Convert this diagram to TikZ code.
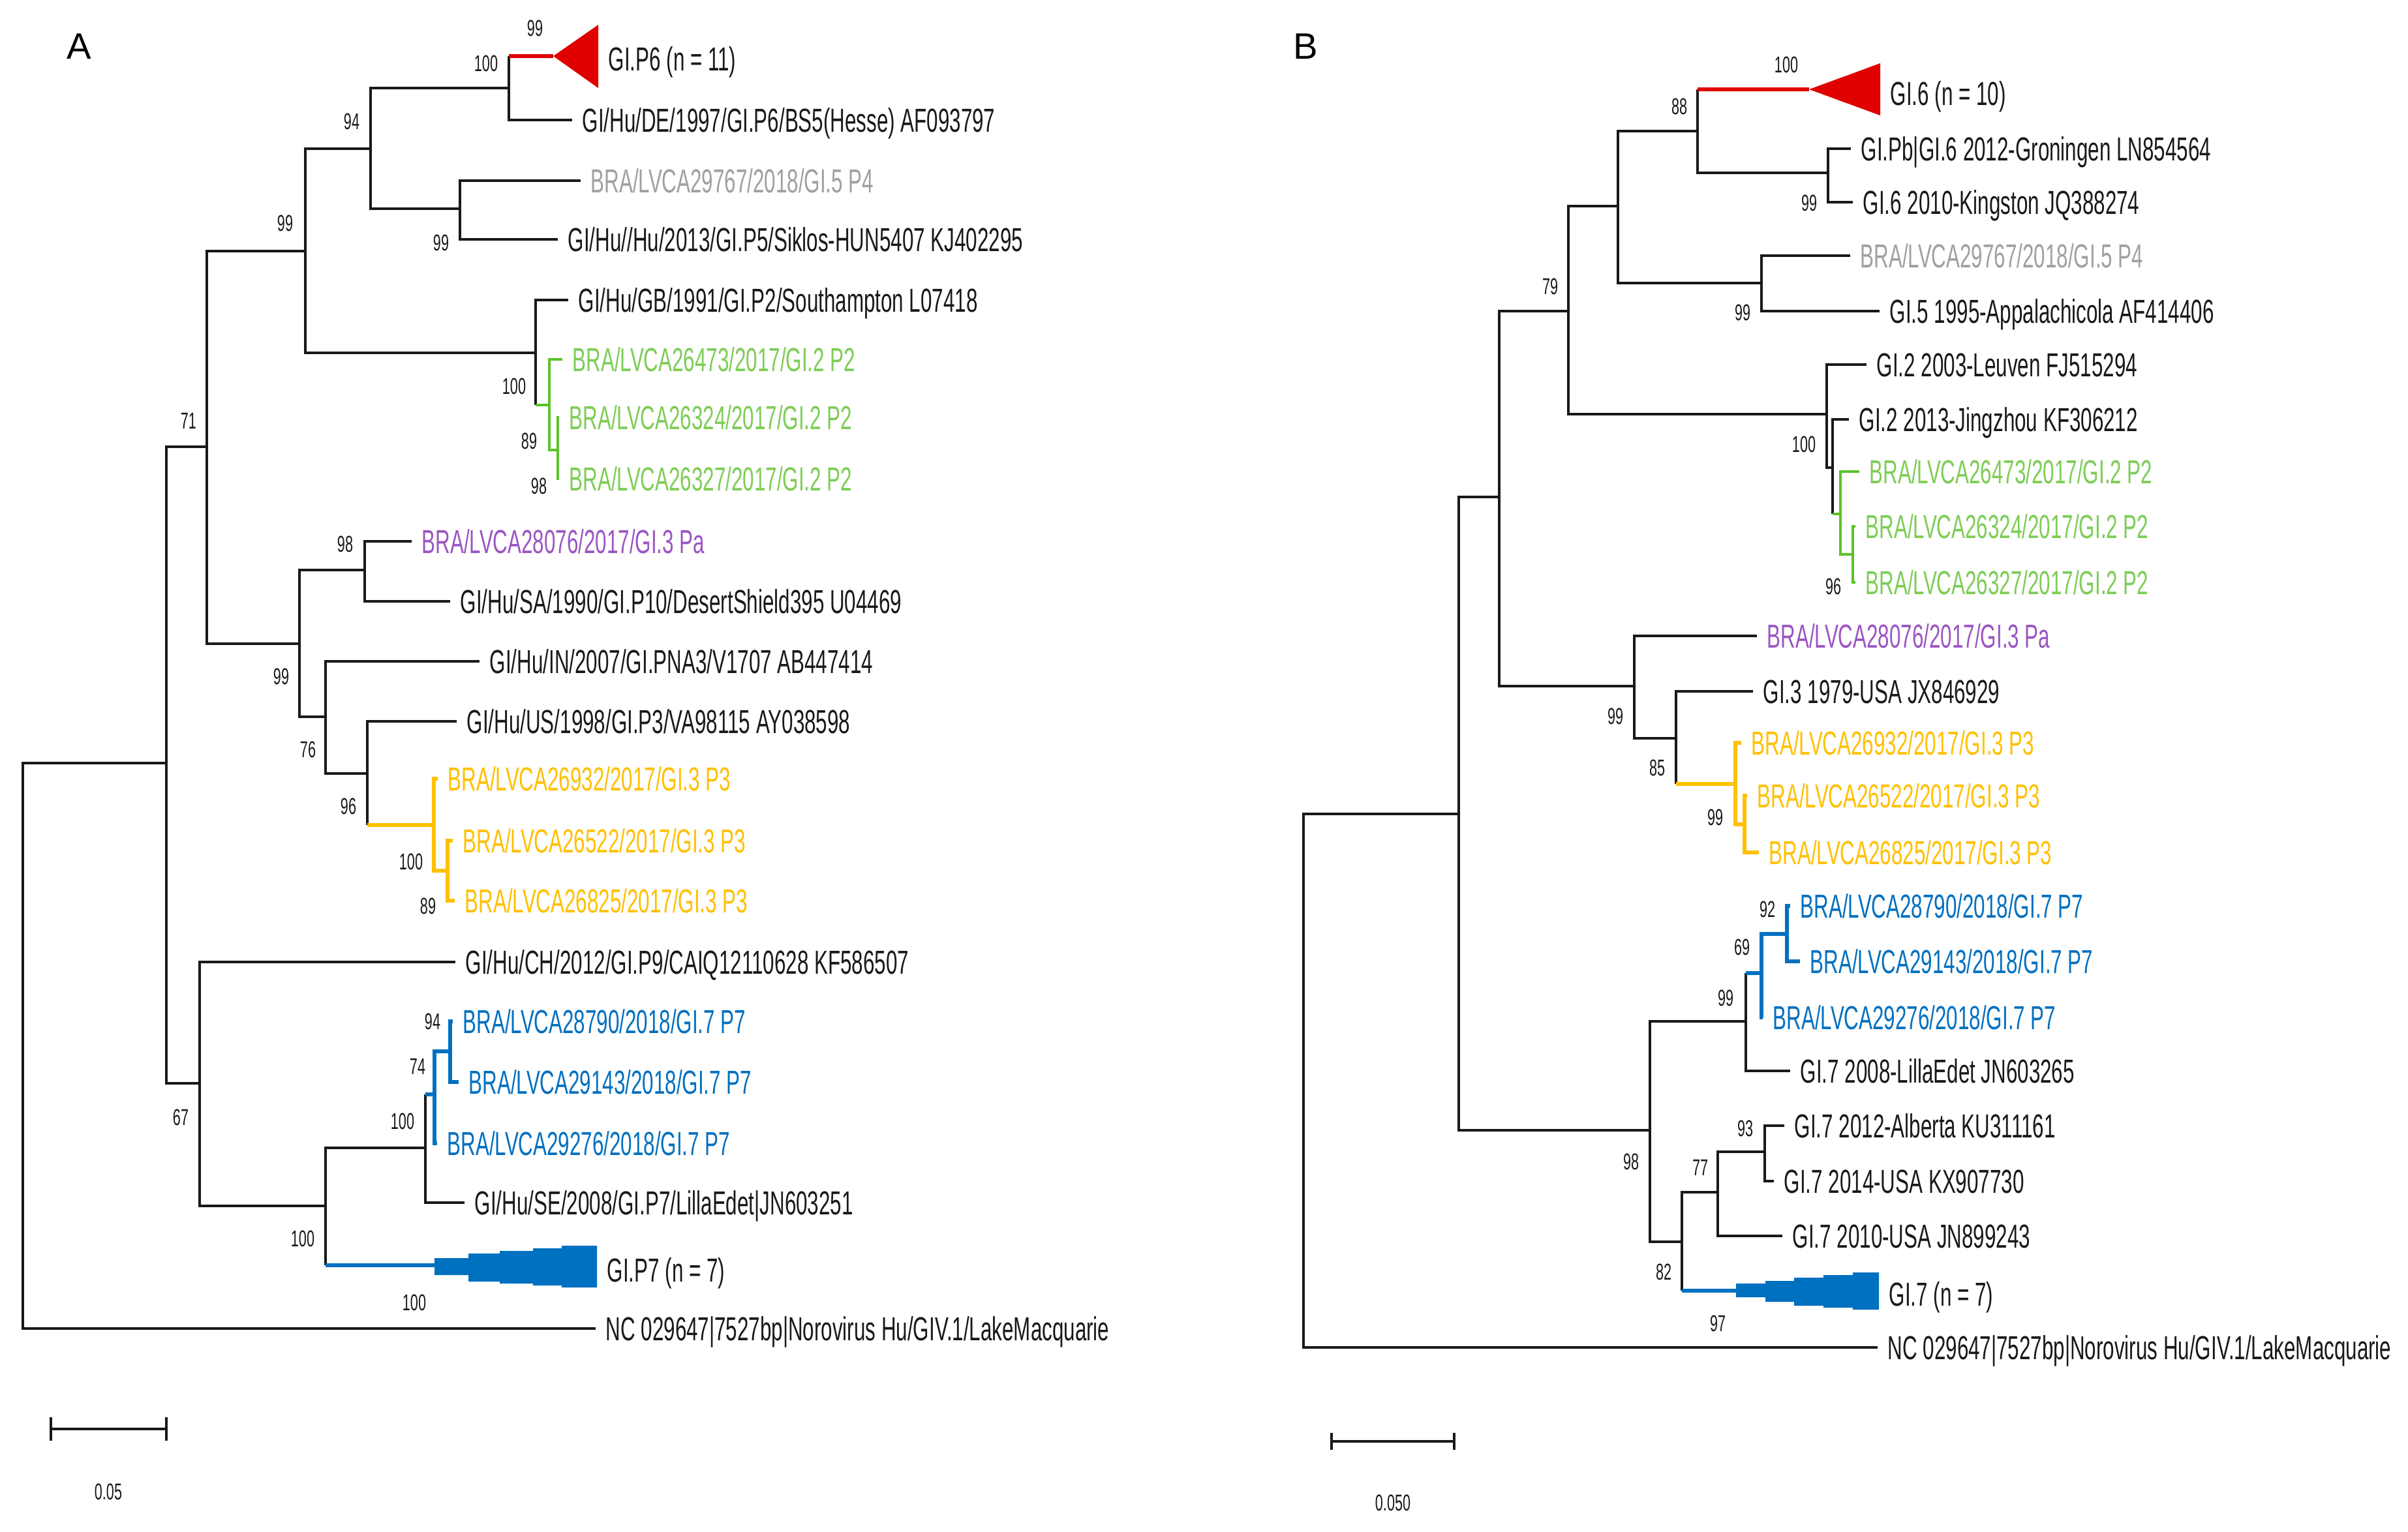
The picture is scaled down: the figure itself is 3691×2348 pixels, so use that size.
\documentclass[tikz,border=0pt]{standalone}
\usepackage{fontspec}
\setmainfont{Liberation Sans}
\newfontfamily\narrowfont[FakeStretch=0.615]{Liberation Sans}
\usetikzlibrary{positioning}

\definecolor{ink}{RGB}{25,25,25}
\definecolor{cladered}{RGB}{224,0,0}
\definecolor{cladegreen}{RGB}{90,195,40}
\definecolor{txtgreen}{RGB}{125,205,85}
\definecolor{txtgray}{RGB}{160,160,160}
\definecolor{cladepurple}{RGB}{155,85,195}
\definecolor{cladeyellow}{RGB}{255,192,0}
\definecolor{cladeblue}{RGB}{0,112,192}

\tikzset{
    br/.style={draw=ink, line width=0.95pt},
    rbr/.style={draw=cladered, line width=1.6pt},
    gbr/.style={draw=cladegreen, line width=1.2pt},
    ybr/.style={draw=cladeyellow, line width=1.6pt},
    bbr/.style={draw=cladeblue, line width=1.6pt},
    leaf/.style={anchor=west, inner xsep=0.15cm, inner ysep=0pt, text=ink,
        font=\narrowfont\fontsize{14.5pt}{16pt}\selectfont, text height=10.4pt, text depth=0pt},
    boot/.style={inner sep=0pt, text=ink, font=\narrowfont\fontsize{10pt}{11pt}\selectfont},
    panel/.style={inner sep=0pt, font=\fontsize{16pt}{18pt}\selectfont}
}

\begin{document}
\begin{tikzpicture}[x=0.01cm, y=-0.01cm]
    \useasboundingbox (0,0) rectangle (3691,2348);
    \fill[white] (0,0) rectangle (3691,2348);

    % ---------- tree A ----------
    \coordinate (rA) at (35,1600);
    \coordinate (a1) at (255,1170);
    \coordinate (a2) at (317,685);
    \coordinate (a3) at (306,1661);
    \coordinate (a4) at (468,385);
    \coordinate (a5) at (459,987);
    \coordinate (a6) at (568,228);
    \coordinate (a7) at (821,541);
    \coordinate (a8) at (780,135);
    \coordinate (a9) at (705,320);
    \coordinate (a10) at (842,621);
    \coordinate (a11) at (855,690);
    \coordinate (a12) at (559,874);
    \coordinate (a13) at (499,1099);
    \coordinate (a14) at (563,1186);
    \coordinate (a15) at (665,1265);
    \coordinate (a16) at (686,1335);
    \coordinate (a17) at (499,1849);
    \coordinate (a18) at (652,1760);
    \coordinate (a19) at (666,1678);
    \coordinate (a20) at (690,1612);

    \coordinate (cP6) at (848,86);
    \coordinate (eP6) at (917,90);
    \coordinate (lDE) at (877,184);
    \coordinate (l29767A) at (890,277);
    \coordinate (lSik) at (855,367);
    \coordinate (lGB) at (871,460);
    \coordinate (l26473A) at (862,551);
    \coordinate (l26324A) at (857,640);
    \coordinate (l26327A) at (857,734);
    \coordinate (lPaA) at (631,830);
    \coordinate (lSA) at (690,922);
    \coordinate (lIN) at (735,1014);
    \coordinate (lUS) at (700,1106);
    \coordinate (l26932A) at (671,1194);
    \coordinate (l26522A) at (694,1289);
    \coordinate (l26825A) at (697,1381);
    \coordinate (lCH) at (698,1475);
    \coordinate (l28790A) at (694,1566);
    \coordinate (l29143A) at (703,1659);
    \coordinate (l29276A) at (670,1753);
    \coordinate (lSE) at (712,1844);
    \coordinate (cP7) at (666,1940);
    \coordinate (eP7) at (915,1947);
    \coordinate (lNCA) at (913,2037);

    % ---------- tree B ----------
    \coordinate (rB) at (1998,1650);
    \coordinate (b1) at (2236,1248);
    \coordinate (b2) at (2298,762);
    \coordinate (b3) at (2529,1733);
    \coordinate (b4) at (2404,477);
    \coordinate (b5) at (2505,1052);
    \coordinate (b6) at (2480,316);
    \coordinate (b7) at (2800,635);
    \coordinate (b8) at (2602,201);
    \coordinate (b9) at (2700,434);
    \coordinate (b10) at (2802,265);
    \coordinate (b11) at (2809,717);
    \coordinate (b12) at (2821,788);
    \coordinate (b13) at (2840,850);
    \coordinate (b14) at (2569,1132);
    \coordinate (b15) at (2660,1202);
    \coordinate (b16) at (2674,1264);
    \coordinate (b17) at (2676,1566);
    \coordinate (b18) at (2578,1904);
    \coordinate (b19) at (2700,1492);
    \coordinate (b20) at (2739,1432);
    \coordinate (b21) at (2633,1828);
    \coordinate (b22) at (2705,1766);

    \coordinate (cG6) at (2773,137);
    \coordinate (eG6) at (2882,143);
    \coordinate (lPb) at (2837,228);
    \coordinate (lKing) at (2840,310);
    \coordinate (l29767B) at (2836,392);
    \coordinate (lApp) at (2881,477);
    \coordinate (lLeu) at (2861,559);
    \coordinate (lJing) at (2834,643);
    \coordinate (l26473B) at (2850,723);
    \coordinate (l26324B) at (2844,807);
    \coordinate (l26327B) at (2844,893);
    \coordinate (lPaB) at (2693,975);
    \coordinate (lUSA79) at (2687,1060);
    \coordinate (l26932B) at (2669,1139);
    \coordinate (l26522B) at (2678,1220);
    \coordinate (l26825B) at (2696,1307);
    \coordinate (l28790B) at (2744,1389);
    \coordinate (l29143B) at (2759,1474);
    \coordinate (l29276B) at (2702,1560);
    \coordinate (lLilla) at (2744,1642);
    \coordinate (lAlb) at (2735,1726);
    \coordinate (lUSA14) at (2719,1811);
    \coordinate (lUSA10) at (2732,1895);
    \coordinate (cG7) at (2661,1979);
    \coordinate (eG7) at (2880,1984);
    \coordinate (lNCB) at (2878,2066);

    % branches
    \foreach \p/\c in {rA/a1, rA/lNCA, a1/a2, a1/a3, a2/a4, a2/a5, a4/a6, a4/a7, a6/a8, a6/a9,
        a8/lDE, a9/l29767A, a9/lSik, a7/lGB, a5/a12, a5/a13, a12/lPaA, a12/lSA, a13/lIN,
        a13/a14, a14/lUS, a3/lCH, a3/a17, a17/a18, a18/lSE,
        rB/b1, rB/lNCB, b1/b2, b1/b3, b2/b4, b2/b5, b4/b6, b4/b7, b6/b8, b6/b9, b8/b10,
        b10/lPb, b10/lKing, b9/l29767B, b9/lApp, b7/lLeu, b7/b11, b11/lJing, b5/lPaB,
        b5/b14, b14/lUSA79, b3/b17, b3/b18, b17/lLilla, b18/b21, b21/b22, b21/lUSA10,
        b22/lAlb, b22/lUSA14}
        \draw[br] (\p) |- (\c);
    % clade entries
    \foreach \p/\c/\s in {a8/cP6/rbr, a7/a10/gbr, a14/a15/ybr, a18/a19/bbr, a17/cP7/bbr,
        b8/cG6/rbr, b11/b12/gbr, b14/b15/ybr, b17/b19/bbr, b18/cG7/bbr} {
        \draw[br] (\p) -- (\p |- \c);
        \draw[\s] (\p |- \c) -- (\c);
    }
    % inside clades
    \foreach \p/\c/\s in {a10/l26473A/gbr, a10/a11/gbr, a11/l26324A/gbr, a11/l26327A/gbr,
        a15/l26932A/ybr, a15/a16/ybr, a16/l26522A/ybr, a16/l26825A/ybr,
        a19/a20/bbr, a19/l29276A/bbr, a20/l28790A/bbr, a20/l29143A/bbr,
        b12/l26473B/gbr, b12/b13/gbr, b13/l26324B/gbr, b13/l26327B/gbr,
        b15/l26932B/ybr, b15/b16/ybr, b16/l26522B/ybr, b16/l26825B/ybr,
        b19/b20/bbr, b19/l29276B/bbr, b20/l28790B/bbr, b20/l29143B/bbr}
        \draw[\s] (\p) |- (\c);

    % collapsed clades
    \fill[cladered] (cP6) -- (917,38) -- (917,135) -- cycle;
    \fill[cladered] (cG6) -- (2882,97) -- (2882,177) -- cycle;
    \fill[cladeblue] (666,1929) -- (718,1929) -- (718,1922) -- (766,1922) -- (766,1918)
        -- (817,1918) -- (817,1914) -- (861,1914) -- (861,1910) -- (915,1910)
        -- (915,1974) -- (861,1974) -- (861,1971) -- (817,1971) -- (817,1968)
        -- (766,1968) -- (766,1965) -- (718,1965) -- (718,1955) -- (666,1955) -- cycle;
    \fill[cladeblue] (2661,1968) -- (2706,1968) -- (2706,1964) -- (2750,1964) -- (2750,1959)
        -- (2795,1959) -- (2795,1955) -- (2840,1955) -- (2840,1951) -- (2880,1951)
        -- (2880,2008) -- (2840,2008) -- (2840,2005) -- (2795,2005) -- (2795,2002)
        -- (2750,2002) -- (2750,1996) -- (2706,1996) -- (2706,1989) -- (2661,1989) -- cycle;

    % leaf labels A
    \node[leaf] (tP6) at (eP6) {GI.P6 (n = 11)};
    \node[leaf] (tDE) at (lDE) {GI/Hu/DE/1997/GI.P6/BS5(Hesse) AF093797};
    \node[leaf, text=txtgray] (t29767A) at (l29767A) {BRA/LVCA29767/2018/GI.5 P4};
    \node[leaf] (tSik) at (lSik) {GI/Hu//Hu/2013/GI.P5/Siklos-HUN5407 KJ402295};
    \node[leaf] (tGB) at (lGB) {GI/Hu/GB/1991/GI.P2/Southampton L07418};
    \node[leaf, text=txtgreen] (t26473A) at (l26473A) {BRA/LVCA26473/2017/GI.2 P2};
    \node[leaf, text=txtgreen] (t26324A) at (l26324A) {BRA/LVCA26324/2017/GI.2 P2};
    \node[leaf, text=txtgreen] (t26327A) at (l26327A) {BRA/LVCA26327/2017/GI.2 P2};
    \node[leaf, text=cladepurple] (tPaA) at (lPaA) {BRA/LVCA28076/2017/GI.3 Pa};
    \node[leaf] (tSA) at (lSA) {GI/Hu/SA/1990/GI.P10/DesertShield395 U04469};
    \node[leaf] (tIN) at (lIN) {GI/Hu/IN/2007/GI.PNA3/V1707 AB447414};
    \node[leaf] (tUS) at (lUS) {GI/Hu/US/1998/GI.P3/VA98115 AY038598};
    \node[leaf, text=cladeyellow] (t26932A) at (l26932A) {BRA/LVCA26932/2017/GI.3 P3};
    \node[leaf, text=cladeyellow] (t26522A) at (l26522A) {BRA/LVCA26522/2017/GI.3 P3};
    \node[leaf, text=cladeyellow] (t26825A) at (l26825A) {BRA/LVCA26825/2017/GI.3 P3};
    \node[leaf] (tCH) at (lCH) {GI/Hu/CH/2012/GI.P9/CAIQ12110628 KF586507};
    \node[leaf, text=cladeblue] (t28790A) at (l28790A) {BRA/LVCA28790/2018/GI.7 P7};
    \node[leaf, text=cladeblue] (t29143A) at (l29143A) {BRA/LVCA29143/2018/GI.7 P7};
    \node[leaf, text=cladeblue] (t29276A) at (l29276A) {BRA/LVCA29276/2018/GI.7 P7};
    \node[leaf] (tSE) at (lSE) {GI/Hu/SE/2008/GI.P7/LillaEdet|JN603251};
    \node[leaf] (tP7) at (eP7) {GI.P7 (n = 7)};
    \node[leaf] (tNCA) at (lNCA) {NC 029647|7527bp|Norovirus Hu/GIV.1/LakeMacquarie};

    % leaf labels B
    \node[leaf] (tG6) at (eG6) {GI.6 (n = 10)};
    \node[leaf] (tPb) at (lPb) {GI.Pb|GI.6 2012-Groningen LN854564};
    \node[leaf] (tKing) at (lKing) {GI.6 2010-Kingston JQ388274};
    \node[leaf, text=txtgray] (t29767B) at (l29767B) {BRA/LVCA29767/2018/GI.5 P4};
    \node[leaf] (tApp) at (lApp) {GI.5 1995-Appalachicola AF414406};
    \node[leaf] (tLeu) at (lLeu) {GI.2 2003-Leuven FJ515294};
    \node[leaf] (tJing) at (lJing) {GI.2 2013-Jingzhou KF306212};
    \node[leaf, text=txtgreen] (t26473B) at (l26473B) {BRA/LVCA26473/2017/GI.2 P2};
    \node[leaf, text=txtgreen] (t26324B) at (l26324B) {BRA/LVCA26324/2017/GI.2 P2};
    \node[leaf, text=txtgreen] (t26327B) at (l26327B) {BRA/LVCA26327/2017/GI.2 P2};
    \node[leaf, text=cladepurple] (tPaB) at (lPaB) {BRA/LVCA28076/2017/GI.3 Pa};
    \node[leaf] (tUSA79) at (lUSA79) {GI.3 1979-USA JX846929};
    \node[leaf, text=cladeyellow] (t26932B) at (l26932B) {BRA/LVCA26932/2017/GI.3 P3};
    \node[leaf, text=cladeyellow] (t26522B) at (l26522B) {BRA/LVCA26522/2017/GI.3 P3};
    \node[leaf, text=cladeyellow] (t26825B) at (l26825B) {BRA/LVCA26825/2017/GI.3 P3};
    \node[leaf, text=cladeblue] (t28790B) at (l28790B) {BRA/LVCA28790/2018/GI.7 P7};
    \node[leaf, text=cladeblue] (t29143B) at (l29143B) {BRA/LVCA29143/2018/GI.7 P7};
    \node[leaf, text=cladeblue] (t29276B) at (l29276B) {BRA/LVCA29276/2018/GI.7 P7};
    \node[leaf] (tLilla) at (lLilla) {GI.7 2008-LillaEdet JN603265};
    \node[leaf] (tAlb) at (lAlb) {GI.7 2012-Alberta KU311161};
    \node[leaf] (tUSA14) at (lUSA14) {GI.7 2014-USA KX907730};
    \node[leaf] (tUSA10) at (lUSA10) {GI.7 2010-USA JN899243};
    \node[leaf] (tG7) at (eG7) {GI.7 (n = 7)};
    \node[leaf] (tNCB) at (lNCB) {NC 029647|7527bp|Norovirus Hu/GIV.1/LakeMacquarie};

    % bootstrap values
    \foreach \x/\y/\v [count=\i] in {289/645/71, 437/342/99, 539/186/94, 745/97/100, 820/43/99,
        676/372/99, 788/592/100, 811/676/89, 826/745/98, 529/834/98, 431/1037/99,
        472/1149/76, 534/1236/96, 630/1321/100, 656/1389/89, 277/1713/67, 663/1566/94,
        640/1635/74, 617/1719/100, 464/1899/100, 635/1997/100}
        \node[boot] (bsA\i) at (\x,\y) {\v};
    \foreach \x/\y/\v [count=\i] in {2738/99/100, 2574/163/88, 2773/311/99, 2376/439/79,
        2671/479/99, 2765/681/100, 2810/899/96, 2476/1098/99, 2540/1177/85, 2629/1253/99,
        2709/1394/92, 2670/1452/69, 2645/1530/99, 2500/1781/98, 2675/1730/93, 2606/1790/77,
        2550/1950/82, 2633/2029/97}
        \node[boot] (bsB\i) at (\x,\y) {\v};

    % panel letters
    \node[panel] (pA) at (121,71) {A};
    \node[panel] (pB) at (2001,71) {B};

    % scale bars
    \coordinate (sbA1) at (78,2191);
    \coordinate (sbA2) at (255,2191);
    \draw[br] (sbA1) -- (sbA2);
    \draw[br] ([yshift=0.18cm]sbA1) -- ([yshift=-0.18cm]sbA1);
    \draw[br] ([yshift=0.18cm]sbA2) -- ([yshift=-0.18cm]sbA2);
    \node[boot] (sbtA) at (166,2287) {0.05};
    \coordinate (sbB1) at (2041,2210);
    \coordinate (sbB2) at (2229,2210);
    \draw[br] (sbB1) -- (sbB2);
    \draw[br] ([yshift=0.13cm]sbB1) -- ([yshift=-0.13cm]sbB1);
    \draw[br] ([yshift=0.13cm]sbB2) -- ([yshift=-0.13cm]sbB2);
    \node[boot] (sbtB) at (2135,2304) {0.050};
\end{tikzpicture}
\end{document}
